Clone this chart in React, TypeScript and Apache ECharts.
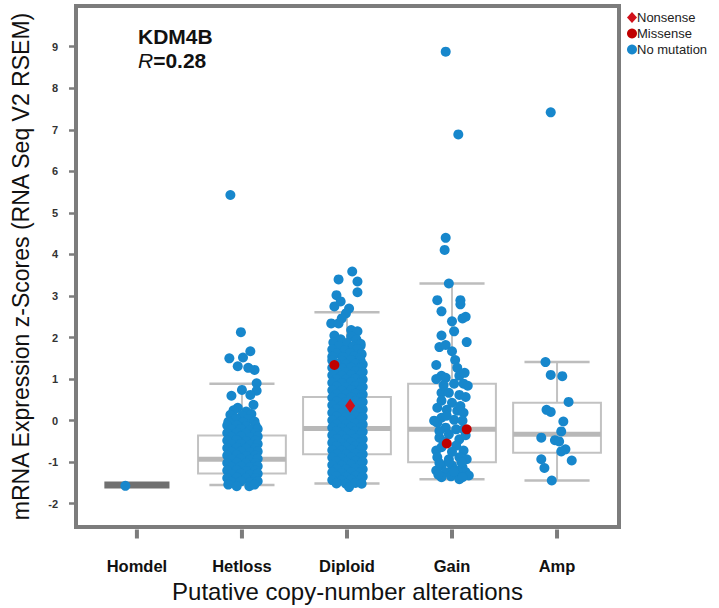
import React, { useEffect, useRef } from "react";
import * as echarts from "echarts";

const categories = ["Homdel", "Hetloss", "Diploid", "Gain", "Amp"];
const yTickValues = [-2, -1, 0, 1, 2, 3, 4, 5, 6, 7, 8, 9];
const xTickValues = [1, 2, 3, 4, 5];
const Y_MIN = -2.56;
const Y_MAX = 9.98;

// box stats per category: [min, q1, median, q3, max]
const boxStats = [
  [-1.55, -1.55, -1.55, -1.55, -1.55],
  [-1.55, -1.27, -0.93, -0.36, 0.89],
  [-1.51, -0.81, -0.19, 0.57, 2.61],
  [-1.41, -1.0, -0.21, 0.89, 3.3],
  [-1.44, -0.77, -0.33, 0.43, 1.41],
];

// points: [jitter, z-score]
const homdelPts = [[-0.11, -1.57]];

const hetlossPts = [
  [-0.11, 5.43], [-0.01, 2.13], [0.08, 1.67], [-0.12, 1.5], [0.01, 1.52], [-0.04, 1.31], [0.06, 1.27],
  [0.12, 1.22], [0.14, 0.9], [0.0, 0.74], [-0.1, 0.6], [0.14, 0.72], [0.08, 0.62], [0.11, 0.38], [-0.04, 0.31],
  [-0.08, 0.25], [0.04, 0.22], [-0.11, 0.14], [0.0, 0.12], [0.09, 0.16], [-0.06, 0.05], [0.06, 0.04],
  [-0.13, -0.03], [0.01, -0.04], [0.12, -0.02],
  [-0.14, -0.12], [-0.05, -0.11], [0.04, -0.13], [0.13, -0.12],
  [-0.1, -0.21], [-0.01, -0.2], [0.08, -0.22], [0.15, -0.2],
  [-0.14, -0.3], [-0.05, -0.29], [0.04, -0.31], [0.13, -0.3],
  [-0.1, -0.39], [-0.01, -0.38], [0.08, -0.4], [0.15, -0.38],
  [-0.14, -0.48], [-0.05, -0.47], [0.04, -0.49], [0.13, -0.48],
  [-0.1, -0.57], [-0.01, -0.56], [0.08, -0.58], [0.15, -0.56],
  [-0.14, -0.66], [-0.05, -0.65], [0.04, -0.67], [0.13, -0.66],
  [-0.1, -0.75], [-0.01, -0.74], [0.08, -0.76], [0.15, -0.74],
  [-0.14, -0.84], [-0.05, -0.83], [0.04, -0.85], [0.13, -0.84],
  [-0.1, -0.93], [-0.01, -0.92], [0.08, -0.94], [0.15, -0.92],
  [-0.14, -1.02], [-0.05, -1.01], [0.04, -1.03], [0.13, -1.02],
  [-0.1, -1.11], [-0.01, -1.1], [0.08, -1.12], [0.15, -1.1],
  [-0.14, -1.2], [-0.05, -1.19], [0.04, -1.21], [0.13, -1.2],
  [-0.1, -1.29], [-0.01, -1.28], [0.08, -1.3], [0.15, -1.28],
  [-0.14, -1.38], [-0.05, -1.37], [0.04, -1.39], [0.13, -1.38],
  [-0.1, -1.47], [-0.01, -1.46], [0.08, -1.48], [0.15, -1.46],
  [-0.13, -1.54], [-0.05, -1.58], [0.07, -1.58], [0.12, -1.54],
];

const diploidPts = [
  [0.05, 3.59], [-0.08, 3.4], [0.1, 3.35], [0.1, 3.09], [-0.1, 3.02], [-0.12, 2.75], [-0.06, 2.87],
  [0.02, 2.7], [-0.01, 2.58], [-0.05, 2.46], [-0.15, 2.34], [-0.08, 2.34], [0.04, 2.18], [0.1, 2.15],
  [0.13, 1.8],
  [-0.12, 2.05], [0.04, 2.03], [-0.06, 1.96], [0.09, 1.95], [-0.13, 1.88], [0.0, 1.87], [0.13, 1.85],
  [-0.08, 1.79], [0.06, 1.78], [-0.14, 1.71], [-0.02, 1.7], [0.1, 1.72], [-0.1, 1.62], [0.03, 1.63],
  [0.14, 1.6], [-0.14, 1.54], [-0.04, 1.53], [0.07, 1.55], [0.12, 1.5],
  [-0.14, 1.45], [-0.05, 1.44], [0.04, 1.46], [0.13, 1.45],
  [-0.1, 1.36], [-0.01, 1.35], [0.08, 1.37], [0.15, 1.35],
  [-0.14, 1.27], [-0.05, 1.26], [0.04, 1.28], [0.13, 1.27],
  [-0.1, 1.18], [-0.01, 1.17], [0.08, 1.19], [0.15, 1.17],
  [-0.14, 1.09], [-0.05, 1.08], [0.04, 1.1], [0.13, 1.09],
  [-0.1, 1.0], [-0.01, 0.99], [0.08, 1.01], [0.15, 0.99],
  [-0.14, 0.91], [-0.05, 0.9], [0.04, 0.92], [0.13, 0.91],
  [-0.1, 0.82], [-0.01, 0.81], [0.08, 0.83], [0.15, 0.81],
  [-0.14, 0.73], [-0.05, 0.72], [0.04, 0.74], [0.13, 0.73],
  [-0.1, 0.64], [-0.01, 0.63], [0.08, 0.65], [0.15, 0.63],
  [-0.14, 0.55], [-0.05, 0.54], [0.04, 0.56], [0.13, 0.55],
  [-0.1, 0.46], [-0.01, 0.45], [0.08, 0.47], [0.15, 0.45],
  [-0.14, 0.37], [-0.05, 0.36], [0.04, 0.38], [0.13, 0.37],
  [-0.1, 0.28], [-0.01, 0.27], [0.08, 0.29], [0.15, 0.27],
  [-0.14, 0.19], [-0.05, 0.18], [0.04, 0.2], [0.13, 0.19],
  [-0.1, 0.1], [-0.01, 0.09], [0.08, 0.11], [0.15, 0.09],
  [-0.14, 0.01], [-0.05, 0.0], [0.04, 0.02], [0.13, 0.01],
  [-0.1, -0.08], [-0.01, -0.09], [0.08, -0.07], [0.15, -0.09],
  [-0.14, -0.17], [-0.05, -0.18], [0.04, -0.16], [0.13, -0.17],
  [-0.1, -0.26], [-0.01, -0.27], [0.08, -0.25], [0.15, -0.27],
  [-0.14, -0.35], [-0.05, -0.36], [0.04, -0.34], [0.13, -0.35],
  [-0.1, -0.44], [-0.01, -0.45], [0.08, -0.43], [0.15, -0.45],
  [-0.14, -0.53], [-0.05, -0.54], [0.04, -0.52], [0.13, -0.53],
  [-0.1, -0.62], [-0.01, -0.63], [0.08, -0.61], [0.15, -0.63],
  [-0.14, -0.71], [-0.05, -0.72], [0.04, -0.7], [0.13, -0.71],
  [-0.1, -0.8], [-0.01, -0.81], [0.08, -0.79], [0.15, -0.81],
  [-0.14, -0.89], [-0.05, -0.9], [0.04, -0.88], [0.13, -0.89],
  [-0.1, -0.98], [-0.01, -0.99], [0.08, -0.97], [0.15, -0.99],
  [-0.14, -1.07], [-0.05, -1.08], [0.04, -1.06], [0.13, -1.07],
  [-0.1, -1.16], [-0.01, -1.17], [0.08, -1.15], [0.15, -1.17],
  [-0.14, -1.25], [-0.05, -1.26], [0.04, -1.24], [0.13, -1.25],
  [-0.1, -1.34], [-0.01, -1.35], [0.08, -1.33], [0.15, -1.35],
  [-0.14, -1.43], [-0.05, -1.44], [0.04, -1.42], [0.13, -1.43],
  [-0.1, -1.51], [-0.01, -1.52], [0.08, -1.5], [0.14, -1.52],
  [0.02, -1.6],
];

const gainPts = [
  [-0.06, 8.88], [0.06, 6.89], [-0.06, 4.4], [-0.07, 4.11], [-0.03, 3.3], [-0.14, 2.9], [0.08, 2.9],
  [0.08, 2.8], [-0.1, 2.63], [0.0, 2.39], [0.1, 2.46], [0.13, 2.5], [0.02, 2.15], [-0.1, 2.05], [0.14, 1.89],
  [-0.12, 1.77], [-0.06, 1.82], [0.0, 1.67], [0.03, 1.46], [-0.15, 1.34], [0.05, 1.27], [-0.1, 1.08],
  [-0.06, 1.03], [-0.15, 1.0], [0.07, 1.08], [0.02, 0.89], [0.11, 0.89], [0.15, 0.84], [-0.1, 0.67],
  [-0.03, 0.67], [0.07, 0.62], [0.13, 0.57], [-0.1, 0.48], [0.0, 0.43], [-0.14, 0.31], [-0.05, 0.26],
  [0.05, 0.24], [0.11, 0.19], [-0.1, 0.07], [0.02, 0.02], [0.1, 0.0], [-0.14, -0.05], [-0.06, -0.17],
  [0.04, -0.21], [-0.17, 0.0], [0.11, -0.21], [-0.03, -0.33], [-0.12, -0.41], [0.07, -0.45], [-0.15, -0.72],
  [-0.1, -0.64], [0.04, -0.6], [0.11, -0.72], [-0.14, -0.88], [-0.03, -0.93], [0.07, -0.88], [0.14, -0.93],
  [-0.1, -1.08], [0.0, -1.08], [0.1, -1.12], [-0.15, -1.2], [-0.06, -1.24], [0.04, -1.29], [0.13, -1.24],
  [-0.1, -1.36], [-0.01, -1.34], [0.07, -1.41], [0.16, -1.32], [-0.08, -0.5], [0.0, -0.75], [-0.12, -0.25],
  [0.13, -0.35], [-0.05, 0.12], [0.08, 0.35], [-0.08, 0.85], [0.12, 1.15], [-0.03, -1.0], [0.05, -1.2],
  [-0.12, -1.02], [0.09, -1.0], [-0.13, -1.3], [0.02, -1.22], [0.1, -1.36],
];

const ampPts = [
  [-0.06, 7.42], [-0.11, 1.41], [-0.06, 1.1], [0.05, 1.07], [0.11, 0.45], [-0.1, 0.26], [-0.06, 0.21],
  [0.06, -0.02], [0.04, -0.26], [-0.15, -0.41], [-0.02, -0.47], [0.02, -0.5], [0.08, -0.69], [0.04, -0.74],
  [-0.15, -0.93], [0.14, -0.96], [-0.12, -1.14], [-0.05, -1.44],
];

// mutated samples: [category index, jitter, z-score]
const missensePts = [[2, -0.12, 1.34], [3, 0.14, -0.21], [3, -0.05, -0.55]];
const nonsensePts = [[2, 0.03, 0.36]];

const FONT = "'Liberation Sans', Arial, Helvetica, sans-serif";

export default function App() {
  const ref = useRef<HTMLDivElement>(null);
  useEffect(() => {
    if (!ref.current) return;
    const chart = echarts.init(ref.current, undefined, { renderer: "svg" });
    const groups = [homdelPts, hetlossPts, diploidPts, gainPts, ampPts];
    const blue: number[][] = [];
    groups.forEach((pts, i) => pts.forEach(([j, v]) => blue.push([i + 1 + j, v])));
    const boxData = boxStats.map((s, i) => [xTickValues[i], ...s]);

    chart.setOption({
      animation: false,
      backgroundColor: "#fff",
      grid: {
        left: 76, right: 100, top: 6, bottom: 78,
        show: true, borderColor: "#7c7c7c", borderWidth: 4, backgroundColor: "#fff",
      },
      legend: {
        orient: "vertical", left: 622, top: 6, itemWidth: 10, itemHeight: 11, itemGap: 3,
        data: ["Nonsense", "Missense", "No mutation"],
        textStyle: { fontFamily: FONT, fontSize: 13, color: "#222", padding: [0, 0, 0, -5] },
      },
      graphic: [
        { type: "text", left: 138, top: 26, style: { text: "KDM4B", font: `bold 21px ${FONT}`, fill: "#111" } },
        {
          type: "text", left: 138, top: 50,
          style: {
            text: "{i|R}=0.28", font: `bold 21px ${FONT}`, fill: "#111",
            rich: { i: { fontStyle: "italic", fontWeight: "normal", fontSize: 21, fontFamily: FONT, fill: "#111" } },
          },
        },
      ],
      xAxis: {
        type: "value", min: 0.42, max: 5.59, splitNumber: 5, position: "bottom",
        splitLine: { show: false },
        axisLine: { show: true, onZero: false, lineStyle: { color: "#7c7c7c", width: 4 } },
        axisTick: { show: false },
        axisLabel: {
          customValues: xTickValues, margin: 30, fontFamily: FONT, fontSize: 16.5, fontWeight: "bold", color: "#111",
          formatter: (v: number) => categories[Math.round(v) - 1] ?? "",
        },
        name: "Putative copy-number alterations", nameLocation: "middle", nameGap: 52,
        nameTextStyle: { fontFamily: FONT, fontSize: 24, color: "#111" },
      },
      yAxis: {
        type: "value", min: Y_MIN, max: Y_MAX, splitNumber: 12,
        splitLine: { show: false },
        axisLine: { show: true, onZero: false, lineStyle: { color: "#7c7c7c", width: 4 } },
        axisTick: { show: true, customValues: yTickValues, length: 7, lineStyle: { color: "#7c7c7c", width: 2.5 } },
        axisLabel: {
          customValues: yTickValues, margin: 18, fontFamily: FONT, fontSize: 11, fontWeight: "bold", color: "#333",
          formatter: (v: number) => (Number.isInteger(v) ? String(v) : ""),
        },
        name: "mRNA Expression z-Scores (RNA Seq V2 RSEM)", nameLocation: "middle", nameGap: 44,
        nameTextStyle: { fontFamily: FONT, fontSize: 23, color: "#111" },
      },
      series: [
        {
          type: "custom", name: "box", data: boxData, silent: true,
          encode: { x: 0, y: [1, 2, 3, 4, 5] },
          renderItem: (params: any, api: any) => {
            const x = api.value(0);
            const c = (v: number) => api.coord([x, v]);
            const [cx, yMin] = c(api.value(1));
            const yQ1 = c(api.value(2))[1];
            const yMd = c(api.value(3))[1];
            const yQ3 = c(api.value(4))[1];
            const yMax = c(api.value(5))[1];
            const halfBox = api.size([0.418, 0])[0];
            const halfCap = api.size([0.31, 0])[0];
            if (api.value(2) === api.value(4)) {
              return {
                type: "rect",
                shape: { x: cx - halfCap, y: yMd - 3.5, width: 2 * halfCap, height: 7 },
                style: { fill: "#707070" },
              };
            }
            const line = { stroke: "#c2c2c2", lineWidth: 2 };
            return {
              type: "group",
              children: [
                { type: "line", shape: { x1: cx, y1: yMax, x2: cx, y2: yQ3 }, style: line },
                { type: "line", shape: { x1: cx, y1: yQ1, x2: cx, y2: yMin }, style: line },
                { type: "line", shape: { x1: cx - halfCap, y1: yMax, x2: cx + halfCap, y2: yMax }, style: { stroke: "#bdbdbd", lineWidth: 2.5 } },
                { type: "line", shape: { x1: cx - halfCap, y1: yMin, x2: cx + halfCap, y2: yMin }, style: { stroke: "#bdbdbd", lineWidth: 2.5 } },
                { type: "rect", shape: { x: cx - halfBox, y: yQ3, width: 2 * halfBox, height: yQ1 - yQ3 }, style: { fill: "#fff", stroke: "#c2c2c2", lineWidth: 2 } },
                { type: "line", shape: { x1: cx - halfBox, y1: yMd, x2: cx + halfBox, y2: yMd }, style: { stroke: "#b8b8b8", lineWidth: 5 } },
              ],
            };
          },
        },
        {
          // category tick marks hanging below the frame
          type: "scatter", name: "ticks", silent: true, clip: false,
          data: xTickValues.map((v) => [v, Y_MIN]),
          symbol: "rect", symbolSize: [4, 9], symbolOffset: [0, 7],
          itemStyle: { color: "#7c7c7c", opacity: 1 },
          z: 5,
        },
        {
          type: "scatter", name: "No mutation", data: blue, symbol: "circle", symbolSize: 10,
          itemStyle: { color: "#1787cc", opacity: 1 },
        },
        {
          type: "scatter", name: "Missense", symbol: "circle", symbolSize: 10,
          data: missensePts.map(([i, j, v]) => [i + 1 + j, v]),
          itemStyle: { color: "#c00000", opacity: 1 },
        },
        {
          type: "scatter", name: "Nonsense", symbol: "diamond", symbolSize: [10, 14],
          data: nonsensePts.map(([i, j, v]) => [i + 1 + j, v]),
          itemStyle: { color: "#d0101a", opacity: 1 },
        },
      ],
    });

    return () => chart.dispose();
  }, []);
  return <div ref={ref} style={{ position: "fixed", left: 0, top: 0, width: 719, height: 608 }} />;
}
